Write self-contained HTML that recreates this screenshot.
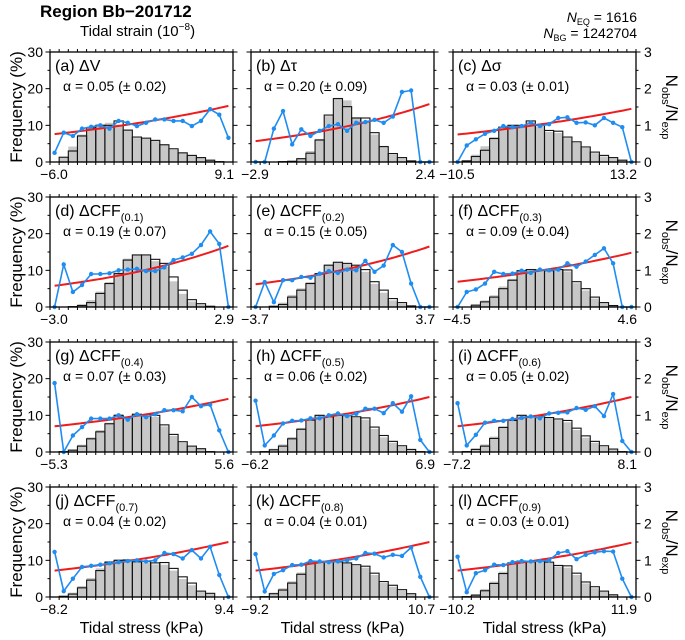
<!DOCTYPE html>
<html><head><meta charset="utf-8"><style>
body{margin:0;background:#fff;}
svg{display:block;font-family:"Liberation Sans",sans-serif;}
</style></head><body>
<svg id="fig" width="685" height="640" viewBox="0 0 685 640">
<text x="40" y="17" font-size="17" font-weight="bold">Region Bb−201712</text>
<text x="80" y="36" font-size="15">Tidal strain (10<tspan dy="-6" font-size="10">−8</tspan><tspan dy="6">)</tspan></text>
<text x="637" y="22" font-size="14" text-anchor="end"><tspan font-style="italic">N</tspan><tspan font-size="9" dy="3">EQ</tspan><tspan dy="-3"> = 1616</tspan></text>
<text x="637" y="38" font-size="14" text-anchor="end"><tspan font-style="italic">N</tspan><tspan font-size="9" dy="3">BG</tspan><tspan dy="-3"> = 1242704</tspan></text>
<g id="panels"></g>
</svg>
<script>
const labels = ["(a) ΔV","(b) Δτ","(c) Δσ","(d) ΔCFF","(e) ΔCFF","(f) ΔCFF","(g) ΔCFF","(h) ΔCFF","(i) ΔCFF","(j) ΔCFF","(k) ΔCFF","(l) ΔCFF"];
const subs = ["","","","(0.1)","(0.2)","(0.3)","(0.4)","(0.5)","(0.6)","(0.7)","(0.8)","(0.9)"];
const alphas = ["α = 0.05 (± 0.02)","α = 0.20 (± 0.09)","α = 0.03 (± 0.01)","α = 0.19 (± 0.07)","α = 0.15 (± 0.05)","α = 0.09 (± 0.04)","α = 0.07 (± 0.03)","α = 0.06 (± 0.02)","α = 0.05 (± 0.02)","α = 0.04 (± 0.02)","α = 0.04 (± 0.01)","α = 0.03 (± 0.01)"];
const xMinLabels = ["−6.0","−2.9","−10.5","−3.0","−3.7","−4.5","−5.3","−6.2","−7.2","−8.2","−9.2","−10.2"];
const xMaxLabels = ["9.1","2.4","13.2","2.9","3.7","4.6","5.6","6.9","8.1","9.4","10.7","11.9"];
const leftTicks = [0,10,20,30];
const rightTicks = [0,1,2,3];
const eqFreq = [
[0,1.3,3,7.1,9.3,10,10,11.2,8.7,6.8,6.5,5.9,4.7,3.6,2.5,1.8,1.2,0.5,0.1,0],
[0,0,0,0.1,0.2,0.9,2.4,6.0,12.8,17.3,15.1,12.0,12.0,8.0,4.2,2.3,1.2,0.3,0,0],
[0,0.3,1.5,3.2,6.4,9.5,10,10,11.2,10,8.6,8.4,6.8,5.5,4.1,2.7,1.8,1.2,0.5,0],
[0,0,0.1,0.4,1.2,3.7,6.4,9.1,12.8,14.2,14.2,13,11.9,8.2,4.6,2.0,0.9,0.2,0,0],
[0,0,0.2,0.7,2.7,4.6,6.4,9.1,11.4,12.2,11.9,11.4,10.2,6.9,4.6,2.3,1.2,0.3,0,0],
[0,0,0.5,1.4,2.7,5.0,7.3,9.9,10.2,10.1,9.9,10.2,10.1,6.9,5.0,2.7,1.2,0.4,0,0],
[0,0.1,0.5,1.6,3.6,5.5,7.7,10,9.5,10.3,10.2,10,7.4,4.8,2.8,1.6,0.9,0.1,0,0],
[0,0.1,0.6,1.6,3.6,6.2,8.7,10,9.6,10,9.9,9.6,9.3,6.8,4.5,2.9,1.7,0.7,0.1,0],
[0,0.1,0.7,1.6,3.7,6.7,8.6,10,9.7,9.9,9.4,9,8.6,6.5,4.4,2.9,1.7,0.8,0.1,0],
[0,0.2,0.8,2.5,4.6,7.2,9.5,10,10.1,9.6,9.7,9.3,9.4,7.8,5.5,3.8,1.6,1.0,0,0],
[0,0.1,0.9,1.9,3.8,6.2,9.3,9.7,9.6,9.6,9.3,8.8,8.4,6.5,4.2,3.2,2.0,0.9,0,0],
[0,0.1,0.5,1.7,3.7,6.4,9.3,9.8,9.6,9.8,9.5,8.6,8.5,6.5,4.1,2.8,1.6,0.6,0,0]];
const bgFreq = [
[0,1.2,4.2,7.5,9.6,10.3,10.7,10.2,8.8,6.5,6.3,5.7,4.8,3.3,2.5,1.8,1.1,0.5,0.1,0],
[0,0,0,0.1,0.3,1.1,3.0,6.3,12.5,17.5,16.8,12.2,11.0,7.5,4.4,2.0,1.0,0.2,0,0],
[0,0.5,2.0,4.3,6.8,9.3,10.2,10.1,10.9,9.7,8.2,7.9,6.5,5.2,3.8,2.4,1.5,1.0,0.4,0],
[0,0,0.2,0.8,1.9,4.2,6.8,9.4,13.2,14.3,14.0,12.5,11.0,7.0,3.6,1.5,0.6,0.1,0,0],
[0,0,0.3,1.2,3.3,5.1,6.8,9.3,11.6,12.3,11.7,11.0,9.6,6.3,3.9,1.8,0.9,0.2,0,0],
[0,0,0.7,1.8,3.2,5.6,7.7,10.1,10.4,10.2,9.8,10.0,9.7,6.5,4.5,2.3,1.0,0.3,0,0],
[0,0.2,0.7,2.0,4.0,6.0,8.0,10.3,9.7,10.4,10.0,9.6,7.0,4.4,2.5,1.4,0.8,0.1,0,0],
[0,0.2,0.9,2.1,4.1,6.6,8.9,10.2,9.8,10.0,9.7,9.3,8.8,6.3,4.0,2.5,1.4,0.5,0.1,0],
[0,0.2,1.0,2.1,4.2,7.0,8.9,10.2,9.8,9.9,9.2,8.7,8.1,6.0,3.9,2.5,1.4,0.6,0.1,0],
[0,0.3,1.2,3.0,5.2,7.8,9.8,10.3,10.2,9.6,9.5,8.9,8.8,7.2,4.9,3.2,1.4,0.8,0,0],
[0,0.2,1.2,2.4,4.3,6.7,9.6,9.9,9.7,9.6,9.1,8.5,8.0,6.0,3.8,2.8,1.7,0.7,0,0],
[0,0.2,0.8,2.2,4.2,6.9,9.6,10.0,9.8,9.8,9.3,8.3,8.0,6.0,3.7,2.4,1.4,0.5,0,0]];
const ratio = [
[0.25,0.8,0.71,0.91,0.96,1.0,0.91,1.12,1.07,0.98,1.07,1.16,1.16,1.12,1.12,0.98,1.12,1.44,1.29,0.66],
[0,0,0.91,1.39,0.48,0.89,0.71,0.85,0.98,1.03,0.85,1.07,1.09,1.15,1.07,1.24,1.91,1.95,0,0],
[0,0.45,0.62,0.77,0.85,0.98,0.95,0.98,1.07,0.98,1.03,1.2,1.22,1.07,1.08,1.0,1.2,1.07,0.95,0],
[0,1.16,0.41,0.6,0.9,0.9,0.92,1.0,1.02,1.04,0.98,0.98,1.08,1.28,1.35,1.45,1.69,2.06,1.72,0],
[0,0.68,0.13,0.73,0.73,0.82,0.8,0.91,0.98,0.93,1.02,1.0,1.26,0.96,1.13,1.69,1.5,0.64,0,0],
[0,0.41,0.48,0.64,0.96,0.9,0.91,0.99,0.93,1.02,1.0,1.02,1.19,1.1,1.24,1.42,1.6,1.19,0,0],
[1.88,0,0.45,0.68,0.91,0.91,0.91,1.0,0.88,1.03,0.95,1.03,1.14,1.14,1.11,1.5,1.25,1.29,0.59,0],
[1.4,0.18,0.45,0.78,0.85,0.86,0.92,0.92,1.0,1.05,0.98,1.04,1.18,1.18,1.06,1.33,1.1,1.52,0.33,0],
[1.33,0.18,0.47,0.8,0.85,0.85,0.9,0.93,0.97,0.92,1.05,1.07,1.08,1.2,1.15,1.25,0.98,1.58,0.3,0],
[1.23,0.16,0.5,0.82,0.85,0.88,0.92,0.95,0.98,1.0,0.97,1.0,1.2,1.17,1.05,1.28,1.05,1.37,0.6,0],
[1.17,0.15,0.63,0.73,0.87,0.88,0.98,0.97,0.95,0.97,1.0,1.05,1.2,1.18,1.08,1.15,1.12,1.35,0.55,0],
[1.1,0.13,0.65,0.73,0.88,0.87,0.95,0.98,0.97,0.98,1.0,1.2,1.25,1.03,1.15,1.22,1.25,1.24,0.5,0]];
const fitStart = [0.76,0.57,0.75,0.58,0.62,0.69,0.70,0.70,0.70,0.72,0.72,0.72];
const fitEnd = [1.53,1.58,1.45,1.67,1.65,1.48,1.45,1.50,1.50,1.50,1.50,1.48];

const NS="http://www.w3.org/2000/svg";
const root=document.getElementById('panels');
const colX=[50,251,453], rowY=[52,197,342,487], W=183, H=110;
function mk(tag,attrs,parent){const e=document.createElementNS(NS,tag);for(const k in attrs)e.setAttribute(k,attrs[k]);(parent||root).appendChild(e);return e;}

for(let p=0;p<12;p++){
  const r=Math.floor(p/3), c=p%3, x0=colX[c], y0=rowY[r];
  const g=mk('g',{});
  
  
  const n=eqFreq[p].length, bw=W/n;
  const sx=i=>x0+i*bw;
  const syF=v=>y0+H-v/30*H;
  const syR=v=>y0+H-v/3*H;
  eqFreq[p].forEach((v,i)=>{ if(v<=0)return;
    const b=mk('rect',{x:sx(i),y:syF(v),width:bw,height:syF(0)-syF(v),fill:'#fff'},g);
     });
  bgFreq[p].forEach((v,i)=>{ if(v<=0)return;
    const b=mk('rect',{x:sx(i),y:syF(v),width:bw,height:syF(0)-syF(v),fill:'#bdbdbd','fill-opacity':0.85},g);
     });
  eqFreq[p].forEach((v,i)=>{ if(v<=0)return;
    const b=mk('rect',{x:sx(i),y:syF(v),width:bw,height:syF(0)-syF(v),fill:'none',stroke:'#111','stroke-width':1.1},g);
     });
  let d='';
  for(let k=0;k<=40;k++){const t=k/40;const v=fitStart[p]*Math.pow(fitEnd[p]/fitStart[p],t);d+=(k?'L':'M')+(x0+bw/2+t*(W-bw)).toFixed(1)+','+syR(v).toFixed(1);}
  const fit=mk('path',{d:d,fill:'none',stroke:'#ee1c1c','stroke-width':2},g);
   
  const pts=ratio[p].map((v,i)=>(sx(i)+bw/2).toFixed(1)+','+syR(v).toFixed(1)).join(' ');
  const ln=mk('polyline',{points:pts,fill:'none',stroke:'#1e8cf0','stroke-width':1.6},g);
   
  ratio[p].forEach((v,i)=>{const m=mk('circle',{cx:sx(i)+bw/2,cy:syR(v),r:2.2,fill:'#1e8cf0'},g);
     });
  const fr=mk('rect',{x:x0,y:y0,width:W,height:H,fill:'none',stroke:'#000','stroke-width':1.3},g);
   
  for(let i=0;i<=n;i++){mk('line',{x1:sx(i),x2:sx(i),y1:y0,y2:y0-3,stroke:'#000','stroke-width':1},g);mk('line',{x1:sx(i),x2:sx(i),y1:y0+H,y2:y0+H+3,stroke:'#000','stroke-width':1},g);}
  for(let k=0;k<=6;k++){const yy=y0+H-k*H/6,len=k%2?2.5:4.5;
    mk('line',{x1:x0,x2:x0-len,y1:yy,y2:yy,stroke:'#000','stroke-width':1},g);
    mk('line',{x1:x0+W,x2:x0+W+len,y1:yy,y2:yy,stroke:'#000','stroke-width':1},g);}
  if(c===0) leftTicks.forEach(t=>{const e=mk('text',{x:x0-7,y:syF(t)+5,'font-size':14,'text-anchor':'end'},g);e.textContent=t;
     });
  if(c===2) rightTicks.forEach(t=>{const e=mk('text',{x:x0+W+8,y:syR(t)+5,'font-size':14},g);e.textContent=t;
     });
  const xl=mk('text',{x:x0+4,y:y0+H+17,'font-size':14,'text-anchor':'middle'},g);xl.textContent=xMinLabels[p];
   
  const xr=mk('text',{x:x0+W+1,y:y0+H+17,'font-size':14,'text-anchor':'end'},g);xr.textContent=xMaxLabels[p];
   
  const tt=mk('text',{x:x0+5,y:y0+19,'font-size':16},g);tt.textContent=labels[p];
   
  if(subs[p]){const s=document.createElementNS(NS,'tspan');s.setAttribute('font-size','11');s.setAttribute('dy','5');s.textContent=subs[p];tt.appendChild(s);}
  const al=mk('text',{x:x0+13,y:y0+39,'font-size':14},g);al.textContent=alphas[p];
   
  if(c===0){const yl=mk('text',{x:0,y:0,'font-size':17,'text-anchor':'middle',transform:`translate(22,${y0+H/2}) rotate(-90)`},g);yl.textContent='Frequency (%)';
     }
  if(c===2){const yl=mk('text',{x:0,y:0,'font-size':17,'text-anchor':'middle',transform:`translate(666,${y0+H/2}) rotate(90)`},g);
    yl.innerHTML='N<tspan font-size="11" dy="4">obs</tspan><tspan dy="-4">/N</tspan><tspan font-size="11" dy="4">exp</tspan>';
     }
  if(r===3){const xt=mk('text',{x:x0+W/2,y:633,'font-size':16,'text-anchor':'middle'},g);xt.textContent='Tidal stress (kPa)';
     }
}
</script>
</body></html>
